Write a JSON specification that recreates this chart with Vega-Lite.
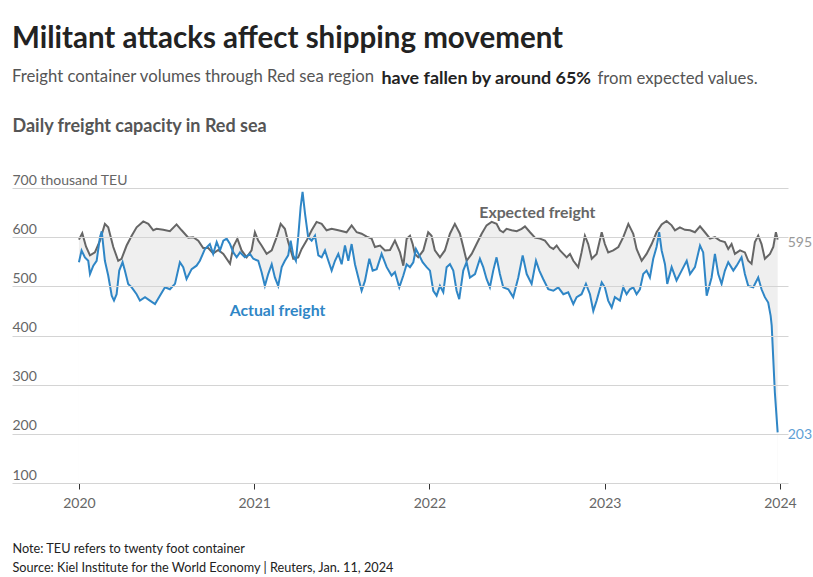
{
"$schema": "https://vega.github.io/schema/vega-lite/v6.json",
"width": 776, "height": 295,
"autosize": {"type": "none"},
"padding": {"left": 12, "top": 188, "right": 25, "bottom": 94},
"background": "white",
"config": {"view": {"stroke": null}, "font": "Lato"},
"title": {"text": "Militant attacks affect shipping movement", "subtitle": "Freight container volumes through Red sea region", "anchor": "start", "frame": "group", "font": "Lato", "fontSize": 29.5, "fontWeight": "bold", "color": "#222", "subtitleFont": "Lato", "subtitleFontSize": 16.7, "subtitleColor": "#555", "subtitlePadding": 15, "offset": -18},
"datasets": {
"expected": [
{"year":2020.000,"value":595},{"year":2020.019,"value":608},{"year":2020.040,"value":581},{"year":2020.063,"value":563},{"year":2020.091,"value":569},{"year":2020.120,"value":593},{"year":2020.148,"value":627},{"year":2020.167,"value":620},{"year":2020.196,"value":580},{"year":2020.224,"value":552},{"year":2020.243,"value":556},{"year":2020.272,"value":583},{"year":2020.301,"value":603},{"year":2020.329,"value":620},{"year":2020.367,"value":632},{"year":2020.396,"value":627},{"year":2020.424,"value":614},{"year":2020.443,"value":617},{"year":2020.481,"value":615},{"year":2020.519,"value":612},{"year":2020.557,"value":626},{"year":2020.586,"value":614},{"year":2020.624,"value":599},{"year":2020.652,"value":600},{"year":2020.681,"value":593},{"year":2020.709,"value":578},{"year":2020.738,"value":578},{"year":2020.766,"value":567},{"year":2020.795,"value":574},{"year":2020.824,"value":566},{"year":2020.862,"value":546},{"year":2020.881,"value":581},{"year":2020.904,"value":597},{"year":2020.928,"value":573},{"year":2020.957,"value":559},{"year":2020.985,"value":573},{"year":2021.004,"value":610},{"year":2021.023,"value":593},{"year":2021.042,"value":583},{"year":2021.071,"value":566},{"year":2021.100,"value":573},{"year":2021.128,"value":600},{"year":2021.151,"value":627},{"year":2021.175,"value":617},{"year":2021.194,"value":590},{"year":2021.223,"value":556},{"year":2021.251,"value":559},{"year":2021.271,"value":576},{"year":2021.299,"value":593},{"year":2021.328,"value":614},{"year":2021.356,"value":631},{"year":2021.385,"value":627},{"year":2021.413,"value":614},{"year":2021.442,"value":617},{"year":2021.480,"value":614},{"year":2021.527,"value":610},{"year":2021.556,"value":624},{"year":2021.585,"value":610},{"year":2021.613,"value":607},{"year":2021.642,"value":601},{"year":2021.670,"value":597},{"year":2021.689,"value":580},{"year":2021.718,"value":583},{"year":2021.746,"value":573},{"year":2021.775,"value":574},{"year":2021.803,"value":593},{"year":2021.832,"value":569},{"year":2021.851,"value":542},{"year":2021.870,"value":597},{"year":2021.889,"value":603},{"year":2021.905,"value":585},{"year":2021.917,"value":566},{"year":2021.936,"value":559},{"year":2021.965,"value":573},{"year":2021.993,"value":610},{"year":2022.012,"value":603},{"year":2022.031,"value":573},{"year":2022.060,"value":559},{"year":2022.088,"value":573},{"year":2022.117,"value":607},{"year":2022.145,"value":627},{"year":2022.174,"value":607},{"year":2022.193,"value":580},{"year":2022.212,"value":552},{"year":2022.241,"value":566},{"year":2022.269,"value":586},{"year":2022.298,"value":607},{"year":2022.326,"value":624},{"year":2022.355,"value":631},{"year":2022.383,"value":627},{"year":2022.402,"value":614},{"year":2022.421,"value":610},{"year":2022.440,"value":617},{"year":2022.469,"value":614},{"year":2022.498,"value":612},{"year":2022.526,"value":617},{"year":2022.545,"value":622},{"year":2022.574,"value":610},{"year":2022.602,"value":599},{"year":2022.631,"value":597},{"year":2022.659,"value":593},{"year":2022.688,"value":580},{"year":2022.707,"value":576},{"year":2022.726,"value":583},{"year":2022.745,"value":573},{"year":2022.764,"value":566},{"year":2022.783,"value":559},{"year":2022.802,"value":566},{"year":2022.821,"value":552},{"year":2022.849,"value":539},{"year":2022.868,"value":569},{"year":2022.887,"value":603},{"year":2022.906,"value":586},{"year":2022.926,"value":556},{"year":2022.954,"value":566},{"year":2022.983,"value":610},{"year":2023.001,"value":586},{"year":2023.020,"value":569},{"year":2023.049,"value":573},{"year":2023.078,"value":580},{"year":2023.106,"value":600},{"year":2023.135,"value":627},{"year":2023.163,"value":607},{"year":2023.182,"value":576},{"year":2023.211,"value":552},{"year":2023.239,"value":566},{"year":2023.268,"value":586},{"year":2023.296,"value":610},{"year":2023.325,"value":626},{"year":2023.353,"value":633},{"year":2023.382,"value":624},{"year":2023.401,"value":614},{"year":2023.429,"value":620},{"year":2023.458,"value":615},{"year":2023.487,"value":614},{"year":2023.515,"value":610},{"year":2023.544,"value":622},{"year":2023.572,"value":610},{"year":2023.601,"value":597},{"year":2023.629,"value":600},{"year":2023.658,"value":593},{"year":2023.686,"value":590},{"year":2023.705,"value":576},{"year":2023.724,"value":586},{"year":2023.743,"value":566},{"year":2023.772,"value":573},{"year":2023.800,"value":569},{"year":2023.819,"value":552},{"year":2023.838,"value":546},{"year":2023.857,"value":590},{"year":2023.876,"value":603},{"year":2023.895,"value":586},{"year":2023.914,"value":556},{"year":2023.943,"value":566},{"year":2023.962,"value":580},{"year":2023.977,"value":610},{"year":2023.987,"value":595}
],
"actual": [
{"year":2020.000,"value":549},{"year":2020.015,"value":573},{"year":2020.034,"value":559},{"year":2020.053,"value":552},{"year":2020.063,"value":525},{"year":2020.082,"value":542},{"year":2020.101,"value":552},{"year":2020.120,"value":600},{"year":2020.130,"value":612},{"year":2020.148,"value":552},{"year":2020.167,"value":522},{"year":2020.187,"value":481},{"year":2020.200,"value":471},{"year":2020.215,"value":484},{"year":2020.230,"value":532},{"year":2020.249,"value":549},{"year":2020.262,"value":532},{"year":2020.281,"value":505},{"year":2020.301,"value":498},{"year":2020.329,"value":484},{"year":2020.348,"value":471},{"year":2020.377,"value":478},{"year":2020.405,"value":471},{"year":2020.434,"value":464},{"year":2020.462,"value":481},{"year":2020.491,"value":498},{"year":2020.519,"value":494},{"year":2020.548,"value":505},{"year":2020.576,"value":549},{"year":2020.595,"value":539},{"year":2020.614,"value":515},{"year":2020.643,"value":535},{"year":2020.671,"value":542},{"year":2020.690,"value":552},{"year":2020.719,"value":576},{"year":2020.747,"value":586},{"year":2020.766,"value":566},{"year":2020.786,"value":590},{"year":2020.805,"value":573},{"year":2020.824,"value":593},{"year":2020.843,"value":597},{"year":2020.862,"value":586},{"year":2020.881,"value":569},{"year":2020.900,"value":559},{"year":2020.919,"value":569},{"year":2020.947,"value":559},{"year":2020.976,"value":566},{"year":2020.995,"value":556},{"year":2021.023,"value":552},{"year":2021.042,"value":529},{"year":2021.061,"value":501},{"year":2021.080,"value":525},{"year":2021.100,"value":545},{"year":2021.118,"value":518},{"year":2021.137,"value":501},{"year":2021.157,"value":539},{"year":2021.175,"value":552},{"year":2021.194,"value":563},{"year":2021.208,"value":593},{"year":2021.223,"value":563},{"year":2021.238,"value":552},{"year":2021.251,"value":600},{"year":2021.265,"value":661},{"year":2021.276,"value":692},{"year":2021.290,"value":648},{"year":2021.308,"value":600},{"year":2021.328,"value":593},{"year":2021.347,"value":603},{"year":2021.366,"value":563},{"year":2021.385,"value":559},{"year":2021.404,"value":573},{"year":2021.423,"value":552},{"year":2021.442,"value":532},{"year":2021.461,"value":552},{"year":2021.480,"value":566},{"year":2021.499,"value":545},{"year":2021.518,"value":583},{"year":2021.537,"value":552},{"year":2021.556,"value":586},{"year":2021.575,"value":545},{"year":2021.594,"value":518},{"year":2021.613,"value":491},{"year":2021.632,"value":511},{"year":2021.657,"value":556},{"year":2021.676,"value":532},{"year":2021.699,"value":535},{"year":2021.727,"value":566},{"year":2021.756,"value":539},{"year":2021.784,"value":522},{"year":2021.803,"value":529},{"year":2021.828,"value":498},{"year":2021.851,"value":522},{"year":2021.870,"value":545},{"year":2021.889,"value":539},{"year":2021.908,"value":549},{"year":2021.923,"value":576},{"year":2021.942,"value":563},{"year":2021.961,"value":549},{"year":2021.984,"value":539},{"year":2022.003,"value":532},{"year":2022.022,"value":491},{"year":2022.041,"value":481},{"year":2022.060,"value":501},{"year":2022.079,"value":488},{"year":2022.098,"value":539},{"year":2022.117,"value":545},{"year":2022.136,"value":532},{"year":2022.155,"value":491},{"year":2022.170,"value":474},{"year":2022.193,"value":532},{"year":2022.212,"value":549},{"year":2022.231,"value":518},{"year":2022.260,"value":525},{"year":2022.288,"value":556},{"year":2022.307,"value":539},{"year":2022.326,"value":515},{"year":2022.345,"value":498},{"year":2022.364,"value":532},{"year":2022.383,"value":559},{"year":2022.402,"value":525},{"year":2022.421,"value":498},{"year":2022.450,"value":494},{"year":2022.478,"value":478},{"year":2022.507,"value":518},{"year":2022.532,"value":563},{"year":2022.555,"value":525},{"year":2022.583,"value":505},{"year":2022.608,"value":552},{"year":2022.627,"value":532},{"year":2022.649,"value":515},{"year":2022.678,"value":494},{"year":2022.707,"value":491},{"year":2022.735,"value":498},{"year":2022.764,"value":484},{"year":2022.792,"value":488},{"year":2022.821,"value":464},{"year":2022.840,"value":478},{"year":2022.868,"value":484},{"year":2022.893,"value":505},{"year":2022.916,"value":484},{"year":2022.935,"value":450},{"year":2022.954,"value":471},{"year":2022.983,"value":508},{"year":2023.001,"value":498},{"year":2023.020,"value":471},{"year":2023.040,"value":457},{"year":2023.058,"value":478},{"year":2023.087,"value":471},{"year":2023.106,"value":498},{"year":2023.125,"value":484},{"year":2023.144,"value":494},{"year":2023.163,"value":498},{"year":2023.182,"value":484},{"year":2023.201,"value":494},{"year":2023.220,"value":525},{"year":2023.239,"value":532},{"year":2023.258,"value":518},{"year":2023.277,"value":556},{"year":2023.296,"value":580},{"year":2023.311,"value":610},{"year":2023.325,"value":573},{"year":2023.344,"value":545},{"year":2023.357,"value":505},{"year":2023.382,"value":539},{"year":2023.410,"value":512},{"year":2023.439,"value":532},{"year":2023.468,"value":552},{"year":2023.487,"value":525},{"year":2023.515,"value":539},{"year":2023.544,"value":583},{"year":2023.562,"value":569},{"year":2023.582,"value":481},{"year":2023.610,"value":518},{"year":2023.629,"value":566},{"year":2023.648,"value":525},{"year":2023.667,"value":505},{"year":2023.686,"value":532},{"year":2023.705,"value":549},{"year":2023.734,"value":532},{"year":2023.753,"value":542},{"year":2023.781,"value":559},{"year":2023.800,"value":525},{"year":2023.819,"value":501},{"year":2023.848,"value":498},{"year":2023.876,"value":518},{"year":2023.895,"value":494},{"year":2023.914,"value":478},{"year":2023.933,"value":467},{"year":2023.947,"value":440},{"year":2023.953,"value":420},{"year":2023.962,"value":352},{"year":2023.971,"value":284},{"year":2023.987,"value":203}
],
"linelabels": [
{"year":2022.616,"value":650,"text":"Expected freight","kind":"expected"},
{"year":2021.133,"value":450,"text":"Actual freight","kind":"actual"}
],
"endlabels": [
{"year":2023.987,"value":588,"text":"595","kind":"expected-end"},
{"year":2023.987,"value":198,"text":"203","kind":"actual-end"}
]
},
"resolve": {"axis": {"x": "independent", "y": "independent"}},
"layer": [
{
"data": {"name": "expected"},
"mark": {"type": "area", "color": "#efefef"},
"encoding": {
"x": {"field": "year", "type": "quantitative", "scale": {"domain": [2019.618, 2024.046], "nice": false, "zero": false},
"axis": {"orient": "bottom", "values": [2020, 2021, 2022, 2023, 2024], "format": "d", "grid": false, "domain": false, "ticks": true, "tickSize": 6, "tickColor": "#333", "tickWidth": 1, "labelFont": "Lato", "labelFontSize": 14, "labelColor": "#666", "labelPadding": 7, "labelFlush": false, "labelOverlap": false,
"title": ["Note: TEU refers to twenty foot container", "Source: Kiel Institute for the World Economy | Reuters, Jan. 11, 2024"], "titleX": 0, "titleY": 69, "titleAlign": "left", "titleAnchor": "start", "titleBaseline": "alphabetic", "titleFont": "Lato", "titleFontSize": 12.7, "titleFontWeight": "normal", "titleColor": "#222", "titleLineHeight": 19}},
"y": {"field": "value", "type": "quantitative", "scale": {"domain": [100, 700], "nice": false, "zero": false},
"axis": {"orient": "left", "values": [100, 200, 300, 400, 500, 600, 700], "grid": true, "gridColor": "#d4d4d4", "gridWidth": 1, "domain": false, "ticks": false, "tickSize": 0, "labelAlign": "left", "labelBaseline": "alphabetic", "labelPadding": 0, "labelOffset": -4, "labelFont": "Lato", "labelFontSize": 14, "labelColor": "#666", "labelFlush": false, "labelOverlap": false, "labelExpr": "datum.value == 700 ? '700 thousand TEU' : datum.label", "zindex": 1,
"title": "Daily freight capacity in Red sea", "titleAngle": 0, "titleAlign": "left", "titleBaseline": "alphabetic", "titleX": 0, "titleY": -57, "titleFont": "Lato", "titleFontSize": 18, "titleFontWeight": "bold", "titleColor": "#555"}},
"y2": {"datum": 100}
}
},
{
"data": {"name": "actual"},
"mark": {"type": "area", "color": "white"},
"encoding": {
"x": {"field": "year", "type": "quantitative",
"axis": {"orient": "top", "labels": false, "ticks": false, "domain": false, "grid": false, "title": "have fallen by around 65%", "titleX": 369, "titleY": -105, "titleAlign": "left", "titleAnchor": "start", "titleBaseline": "alphabetic", "titleFont": "Lato", "titleFontSize": 17.9, "titleFontWeight": "bold", "titleColor": "#222"}},
"y": {"field": "value", "type": "quantitative",
"axis": {"orient": "right", "labels": false, "ticks": false, "domain": false, "grid": false, "title": "from expected values.", "titleAngle": 0, "titleAlign": "left", "titleAnchor": "start", "titleBaseline": "alphabetic", "titleX": -191, "titleY": -105, "titleFont": "Lato", "titleFontSize": 16.7, "titleFontWeight": "normal", "titleColor": "#555"}},
"y2": {"datum": 100}
}
},
{
"data": {"name": "expected"},
"mark": {"type": "line", "color": "#666666", "strokeWidth": 2},
"encoding": {
"x": {"field": "year", "type": "quantitative", "axis": null},
"y": {"field": "value", "type": "quantitative", "axis": null}
}
},
{
"data": {"name": "actual"},
"mark": {"type": "line", "color": "#2f86c6", "strokeWidth": 2},
"encoding": {
"x": {"field": "year", "type": "quantitative", "axis": null},
"y": {"field": "value", "type": "quantitative", "axis": null}
}
},
{
"data": {"name": "linelabels"},
"mark": {"type": "text", "font": "Lato", "fontSize": 15.8, "fontWeight": "bold", "align": "center", "baseline": "middle"},
"encoding": {
"x": {"field": "year", "type": "quantitative", "axis": null},
"y": {"field": "value", "type": "quantitative", "axis": null},
"text": {"field": "text"},
"color": {"field": "kind", "type": "nominal", "scale": {"domain": ["expected", "actual", "expected-end", "actual-end"], "range": ["#666666", "#2f86c6", "#999999", "#5ea0d5"]}, "legend": null}
}
},
{
"data": {"name": "endlabels"},
"mark": {"type": "text", "font": "Lato", "fontSize": 14, "align": "left", "baseline": "middle", "dx": 10},
"encoding": {
"x": {"field": "year", "type": "quantitative", "axis": null},
"y": {"field": "value", "type": "quantitative", "axis": null},
"text": {"field": "text"},
"color": {"field": "kind", "type": "nominal", "legend": null}
}
}
]
}
